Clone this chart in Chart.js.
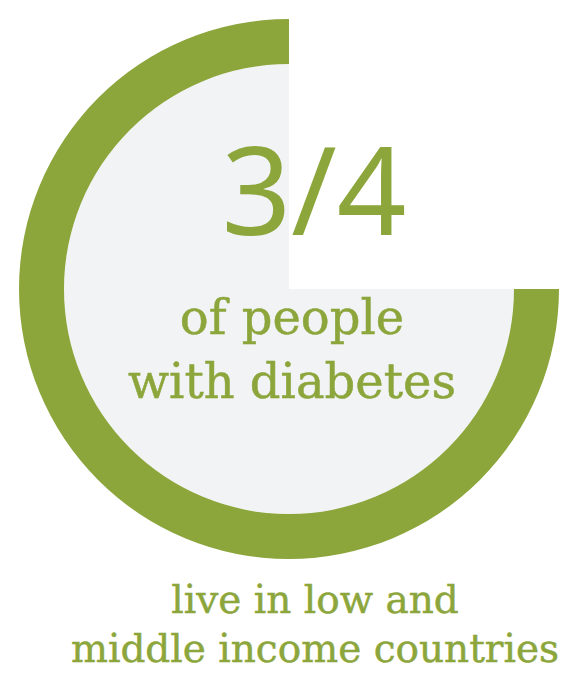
<!DOCTYPE html>
<html>
<head>
<meta charset="utf-8">
<script src="https://cdn.jsdelivr.net/npm/chart.js@4/dist/chart.umd.min.js"></script>
<style>
  html, body { margin: 0; padding: 0; background: #ffffff; }
  body { width: 574px; height: 676px; position: relative; overflow: hidden; }
  #wrap { position: absolute; left: 19px; top: 19px; width: 540px; height: 540px; }
  .t { position: absolute; color: #8ca63c; white-space: nowrap; text-align: center; }
  #big { left: 114px; width: 400px; top: 118px; font-family: "Noto Sans", sans-serif; font-weight: 400; font-size: 122px; line-height: 140px; }
  #mid { left: 92px; width: 400px; top: 285px; font-family: "DejaVu Serif", serif; font-size: 48px; line-height: 64px; -webkit-text-stroke: 0.5px #8ca63c; }
  #bot { left: 15px; width: 600px; top: 575px; font-family: "DejaVu Serif", serif; font-size: 39px; line-height: 49px; -webkit-text-stroke: 0.5px #8ca63c; }
</style>
</head>
<body>
<div id="wrap"><canvas id="c"></canvas></div>
<div class="t" id="big">3/4</div>
<div class="t" id="mid">of people<br>with diabetes</div>
<div class="t" id="bot">live in low and<br>middle income countries</div>
<script>
const categories = ['Low and middle income countries', 'High income countries'];
const shares = [75, 25];
const bigLabel = '3/4';

const green = '#8ca63c';
const gray = '#f2f3f5';
const none = 'rgba(0,0,0,0)';

new Chart(document.getElementById('c'), {
  type: 'doughnut',
  data: {
    labels: categories,
    datasets: [
      { data: shares, backgroundColor: [green, none], borderWidth: 0, weight: 45, hoverOffset: 0 },
      { data: shares, backgroundColor: [gray, none], borderWidth: 0, weight: 225, hoverOffset: 0 }
    ]
  },
  options: {
    responsive: true,
    maintainAspectRatio: false,
    animation: false,
    rotation: 90,
    cutout: 0,
    layout: { padding: 0 },
    plugins: { legend: { display: false }, tooltip: { enabled: false } },
    events: []
  }
});
</script>
</body>
</html>
